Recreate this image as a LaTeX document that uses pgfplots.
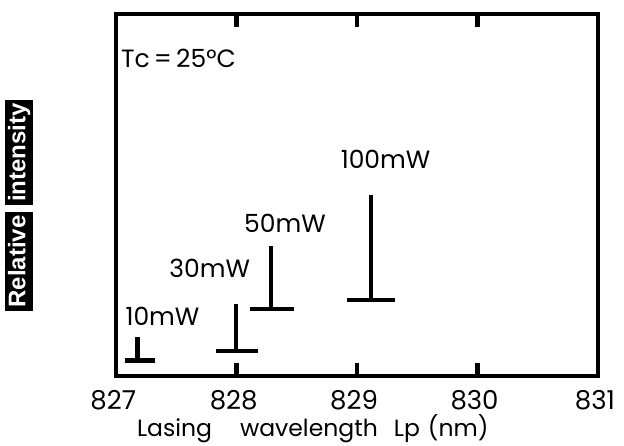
\documentclass[border=0pt]{standalone}
\usepackage{fontspec}
\setmainfont{Poppins}
\newfontfamily\labfont{Liberation Sans}
\usepackage{pgfplots}
\pgfplotsset{compat=1.18}
\begin{document}
\begin{tikzpicture}
\begin{axis}[name=ax, scale only axis, width=481.8pt, height=362pt,
  xmin=827, xmax=831, ymin=0, ymax=362,
  axis line style={line width=4.5pt, black},
  xtick={827,828,829,830,831}, ytick=\empty,
  tick align=inside, major tick length=13pt,
  major tick style={line width=4.5pt, black},
  /pgf/number format/assume math mode=true,
  xticklabel style={font=\fontsize{26}{30}\selectfont, anchor=base, yshift=-33pt, xshift=-3pt},
  xlabel={Lasing\hspace{28pt}wavelength\hspace{16pt}Lp\hspace{8pt}(nm)},
  xlabel style={at={(axis description cs:0.408,0)}, anchor=base, yshift=-60pt, font=\fontsize{23.5}{28}\selectfont},
  clip=false,
]
% 10mW
\addplot[black, line width=4.5pt, no marks] coordinates {(827.073,15.7) (827.322,15.7)};
\addplot[black, line width=4.5pt, no marks] coordinates {(827.178,15.7) (827.178,39.3)};
% 30mW
\addplot[black, line width=4.5pt, no marks] coordinates {(827.829,25) (828.175,25)};
\addplot[black, line width=4.5pt, no marks] coordinates {(827.995,25) (827.995,72)};
% 50mW
\addplot[black, line width=4.5pt, no marks] coordinates {(828.110,67) (828.475,67)};
\addplot[black, line width=4.5pt, no marks] coordinates {(828.285,67) (828.285,130.3)};
% 100mW
\addplot[black, line width=4.5pt, no marks] coordinates {(828.915,76) (829.314,76)};
\addplot[black, line width=4.5pt, no marks] coordinates {(829.115,76) (829.115,181)};
\node[anchor=base, font=\fontsize{25}{30}\selectfont] at (axis cs:827.384,51) {10mW};
\node[anchor=base, font=\fontsize{25}{30}\selectfont] at (axis cs:827.776,99) {30mW};
\node[anchor=base, font=\fontsize{25}{30}\selectfont] at (axis cs:828.401,143.3) {50mW};
\node[anchor=base, font=\fontsize{25}{30}\selectfont] at (axis cs:829.236,208) {100mW};
\node[anchor=base, font=\fontsize{25}{30}\selectfont] at (axis cs:827.517,309) {Tc\,=\,25°C};
\node[rotate=90, fill=black, text=white, font=\labfont\bfseries\fontsize{24}{28}\selectfont,
  inner xsep=3pt, inner ysep=3pt, text height=17pt, text depth=5pt]
  at (axis description cs:-0.2012,0.3163) {Relative};
\node[rotate=90, fill=black, text=white, font=\labfont\bfseries\fontsize{24}{28}\selectfont,
  inner xsep=3pt, inner ysep=3pt, text height=17pt, text depth=5pt]
  at (axis description cs:-0.2012,0.6174) {intensity};
\end{axis}
\pgfresetboundingbox
\path[use as bounding box] ([shift={(-116.2pt,-69pt)}]ax.south west) rectangle ([shift={(26pt,14pt)}]ax.north east);
\end{tikzpicture}
\end{document}
